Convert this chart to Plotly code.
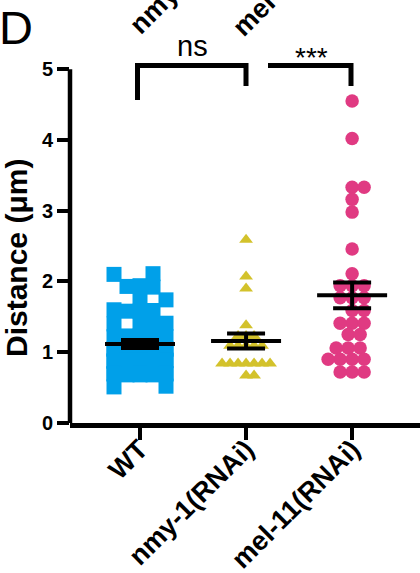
import numpy as np
import plotly.graph_objects as go

# ---------------- data ----------------
categories = ["WT", "nmy-1(RNAi)", "mel-11(RNAi)"]
wt_values = [2.11, 2.10, 1.94, 1.93, 1.92, 1.75, 1.74, 1.60, 1.59, 1.58, 1.58,
             1.42, 1.41, 1.40, 1.40, 1.24, 1.23, 1.23, 1.22, 1.22,
             1.06, 1.05, 1.05, 1.05, 1.04, 1.04, 1.05, 1.06, 1.04, 1.05, 1.05,
             0.89, 0.88, 0.88, 0.87, 0.88, 0.89, 0.87, 0.88, 0.88, 0.87, 0.89,
             0.70, 0.69, 0.69, 0.68, 0.68, 0.69, 0.70, 0.68, 0.69, 0.70, 0.69,
             0.52, 0.51]
nmy_values = [2.59, 2.07, 1.90, 1.38, 1.23, 1.23, 1.23,
              1.09, 1.09, 1.09, 1.09, 1.09,
              0.84, 0.84, 0.84, 0.84, 0.84, 0.84, 0.84,
              0.67, 0.67]
mel_values = [4.55, 4.02, 3.33, 3.33, 3.16, 2.98, 2.46, 2.11,
              1.94, 1.94, 1.94, 1.77, 1.77, 1.77, 1.59, 1.59,
              1.41, 1.41, 1.41, 1.25, 1.25, 1.06, 1.06, 1.06,
              0.90, 0.90, 0.90, 0.90, 0.72, 0.72, 0.72]
y_ticks = [0, 1, 2, 3, 4, 5]
y_title = "Distance (μm)"
sig_labels = ["ns", "***"]

# ---------------- layout geometry ----------------
W, H = 420, 573
ML, MR, MT, MB = 70, 0, 55, 150
XMIN, XMAX = -0.66, 2.64
YMIN, YMAX = 0, 5.2
plot_w = W - ML - MR
plot_h = H - MT - MB
ppu_x = plot_w / (XMAX - XMIN)
ppu_y = plot_h / (YMAX - YMIN)
FONT = "Liberation Sans, Arial"


def xd(px):
    return XMIN + (px - ML) / ppu_x


def yd(py):
    return YMIN + (H - MB - py) / ppu_y


def xp(px):
    return (px - ML) / plot_w


def yp(py):
    return (H - MB - py) / plot_h


def swarm(values, size, clamp, shape):
    n = len(values)
    counts = {}
    for v in values:
        counts[v] = counts.get(v, 0) + 1
    order = sorted(range(n), key=lambda i: (-counts[values[i]], values[i], i))
    placed = []
    offs = [0.0] * n

    def collide(x, y, px, py):
        if shape == "circle":
            return (x - px) ** 2 + (y - py) ** 2 < size ** 2 - 1e-6
        return abs(x - px) < size - 1e-6 and abs(y - py) < size - 1e-6

    def overlap(x, y):
        tot = 0.0
        for px, py in placed:
            ox = max(0.0, size - abs(x - px))
            oy = max(0.0, size - abs(y - py))
            tot += ox * oy
        return tot

    for k, i in enumerate(order):
        y = values[i] * ppu_y
        near = [(px, py) for px, py in placed if abs(py - y) < size]
        cands = [0.0]
        for px, py in near:
            if shape == "circle":
                dx = np.sqrt(max(size ** 2 - (py - y) ** 2, 0.0))
            else:
                dx = size
            cands += [px + dx, px - dx]
        valid = [c for c in cands if abs(c) <= clamp + 1e-6
                 and not any(collide(c, y, px, py) for px, py in near)]
        if valid:
            x = min(valid, key=lambda c: (round(abs(c), 4), c * (1 if k % 2 else -1)))
        else:
            grid = np.linspace(-clamp, clamp, int(2 * clamp) + 1)
            x = min(grid, key=lambda c: (round(overlap(c, y), 3), abs(c)))
        placed.append((x, y))
        offs[i] = x
    return offs


groups = [
    (wt_values, "square", 15, "#00A0E9", 13, 26, "square"),
    (nmy_values, "triangle-up", 12, "#D3C22B", 8, 26, "square"),
    (mel_values, "circle", 13.5, "#E03A82", 12, 26, "circle"),
]

fig = go.Figure()
shapes = []
for gi, (vals, sym, msize, color, coll, clamp, cshape) in enumerate(groups):
    offs = swarm(vals, coll, clamp, cshape)
    xs = [gi + o / ppu_x for o in offs]
    fig.add_trace(go.Scatter(
        x=xs, y=vals, mode="markers", cliponaxis=False,
        marker=dict(symbol=sym, size=msize, color=color, line=dict(width=0)),
        showlegend=False, hoverinfo="skip"))
    arr = np.array(vals)
    m = arr.mean()
    s = arr.std(ddof=1) / np.sqrt(len(arr))
    half_mean = 35 / ppu_x
    half_cap = 19 / ppu_x
    lw = 4
    shapes.append(dict(type="line", xref="x", yref="y", x0=gi - half_mean, x1=gi + half_mean,
                       y0=m, y1=m, line=dict(color="black", width=lw), layer="above"))
    for yy in (m - s, m + s):
        shapes.append(dict(type="line", xref="x", yref="y", x0=gi - half_cap, x1=gi + half_cap,
                           y0=yy, y1=yy, line=dict(color="black", width=lw), layer="above"))
    shapes.append(dict(type="line", xref="x", yref="y", x0=gi, x1=gi,
                       y0=m - s, y1=m + s, line=dict(color="black", width=lw), layer="above"))

# y axis line (0..5)
shapes.append(dict(type="line", xref="paper", yref="y", x0=0, x1=0, y0=0, y1=5,
                   line=dict(color="black", width=4.5)))

# significance brackets
bt = yd(65.5)
shapes.append(dict(type="path", xref="x", yref="y",
                   path=f"M {xd(137.5)},{yd(100)} L {xd(137.5)},{bt} L {xd(246)},{bt} L {xd(246)},{yd(86)}",
                   line=dict(color="black", width=5)))
shapes.append(dict(type="path", xref="x", yref="y",
                   path=f"M {xd(268)},{bt} L {xd(351)},{bt} L {xd(351)},{yd(86)}",
                   line=dict(color="black", width=5)))


def ann(text, px, py, size, bold=False, angle=0, xa="center", ya="middle"):
    f = dict(family=FONT, size=size, color="black")
    if bold:
        f["weight"] = "bold"
    return dict(text=text, x=xp(px), y=yp(py), xref="paper", yref="paper", showarrow=False,
                textangle=angle, xanchor=xa, yanchor=ya, font=f)


annotations = [
    ann(sig_labels[0], 192, 46, 29),
    ann(sig_labels[1], 311, 58, 28),
    ann("D", -3, 27, 47, xa="left"),
    ann(y_title, 16, 258, 30, bold=True, angle=-90),
    # cut-off labels of the panel above
    ann(categories[1], 121, 42, 27, bold=True, angle=-45, xa="left", ya="bottom"),
    ann(categories[2], 224, 45, 27, bold=True, angle=-45, xa="left", ya="bottom"),
]

fig.update_layout(
    template="none",
    width=W, height=H,
    margin=dict(l=ML, r=MR, t=MT, b=MB, pad=0),
    paper_bgcolor="white", plot_bgcolor="white",
    shapes=shapes, annotations=annotations,
    xaxis=dict(range=[XMIN, XMAX], tickvals=[0, 1, 2], ticktext=categories, tickangle=-45,
               ticks="outside", ticklen=12, tickwidth=4, tickcolor="black",
               showline=True, linewidth=4.5, linecolor="black", showgrid=False, zeroline=False,
               automargin=False, ticklabelstandoff=-17,
               tickfont=dict(family=FONT, size=27, color="black", weight="bold")),
    yaxis=dict(range=[YMIN, YMAX], tickvals=y_ticks, ticktext=[str(t) for t in y_ticks],
               ticks="outside", ticklen=12, tickwidth=4, tickcolor="black",
               showline=False, showgrid=False, zeroline=False, automargin=False,
               tickfont=dict(family=FONT, size=20, color="black", weight="bold")),
)

fig.write_html("out.html")
